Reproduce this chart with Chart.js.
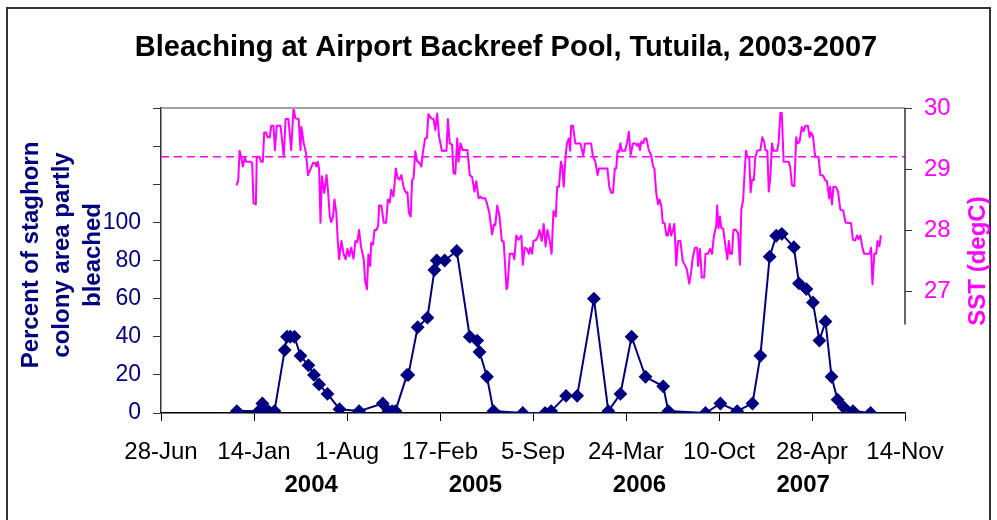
<!DOCTYPE html>
<html>
<head>
<meta charset="utf-8">
<script src="https://cdn.jsdelivr.net/npm/chart.js@4.4.1/dist/chart.umd.min.js"></script>
<style>
  html, body { margin: 0; padding: 0; background: #fff; }
  #wrap { width: 997px; height: 520px; position: relative; }
</style>
</head>
<body>
<div id="wrap"><canvas id="c" width="997" height="520"></canvas></div>
<script>
// ---------------- DATA ----------------
const chartTitle = 'Bleaching at Airport Backreef Pool, Tutuila, 2003-2007';
const leftAxisTitle = ['Percent of staghorn', 'colony area partly', 'bleached'];
const rightAxisTitle = 'SST (degC)';
const axisStartDate = '2003-06-28';

// Date-axis tick labels (every 200 days)
const xTickDates = ['2003-06-28', '2004-01-14', '2004-08-01', '2005-02-17', '2005-09-05',
                    '2006-03-24', '2006-10-10', '2007-04-28', '2007-11-14'];
const monthNames = ['Jan','Feb','Mar','Apr','May','Jun','Jul','Aug','Sep','Oct','Nov','Dec'];

// Year labels under the date axis
const yearLabels = ['2004', '2005', '2006', '2007'];
const yearLabelDates = ['2004-05-16', '2005-05-04', '2006-04-22', '2007-04-09'];

// Bleaching surveys
const bleachDates = [
  '2003-12-08','2004-01-24','2004-02-01','2004-02-07','2004-02-14','2004-02-27','2004-03-20','2004-03-25',
  '2004-04-01','2004-04-10','2004-04-23','2004-05-10','2004-05-22','2004-06-02','2004-06-20','2004-07-16',
  '2004-08-27','2004-10-17','2004-10-29','2004-11-06','2004-11-13','2004-12-08','2004-12-11','2004-12-31',
  '2005-01-21','2005-02-05','2005-02-10','2005-02-27','2005-03-25','2005-04-22','2005-05-08','2005-05-13',
  '2005-05-29','2005-06-12','2005-08-14','2005-10-01','2005-10-14','2005-11-15','2005-12-09','2006-01-14',
  '2006-02-14','2006-03-12','2006-04-05','2006-05-05','2006-06-12','2006-06-23','2006-09-11','2006-10-13',
  '2006-11-18','2006-12-21','2007-01-07','2007-01-27','2007-02-10','2007-02-22','2007-03-20','2007-03-31',
  '2007-04-16','2007-04-30','2007-05-14','2007-05-27','2007-06-09','2007-06-22','2007-07-05','2007-07-25',
  '2007-09-01'
];
const bleachPercent = [
  1, 1, 5, 1, 1, 1, 33, 40,
  40, 40, 30, 25, 20, 15, 10, 2,
  1, 5, 1, 1, 1, 20, 20, 45,
  50, 75, 80, 80, 85, 40, 38, 32,
  19, 1, 0, 0, 1, 9, 9, 60,
  1, 10, 40, 19, 14, 1, 0, 5,
  1, 5, 30, 82, 93, 94, 87, 68,
  65, 58, 38, 48, 19, 7, 3, 1,
  0
];

// SST readings: [days after 28-Jun-2003, degC]
const sstReadings = [
[162,28.73],[166,28.80],[169,29.30],[173,29.18],[176,29.04],[180,29.19],[183,29.12],[192,29.12],[196,29.10],[199,28.44],
[204,28.42],[206,29.20],[212,29.20],[215,29.12],[219,29.12],[222,29.60],[226,29.60],[229,29.52],[234,29.52],[237,29.71],
[242,29.71],[245,29.31],[249,29.71],[257,29.71],[264,29.20],[268,29.82],[274,29.82],[280,29.31],[285,30.00],[289,29.83],
[296,29.82],[300,29.31],[302,29.69],[307,29.42],[312,29.26],[316,28.90],[321,28.99],[327,29.10],[332,29.10],[334,29.04],
[337,29.12],[340,29.01],[343,28.12],[346,28.88],[351,28.61],[356,28.90],[359,28.66],[363,28.22],[366,28.13],[370,28.22],
[373,28.50],[377,28.28],[380,27.84],[383,27.52],[388,27.82],[393,27.60],[397,27.52],[401,27.69],[405,27.57],[409,27.71],
[414,27.53],[418,27.82],[422,27.80],[426,28.00],[430,27.73],[436,27.52],[439,27.16],[443,27.03],[446,27.60],[450,27.41],
[452,27.79],[456,27.76],[459,28.00],[463,28.00],[467,28.07],[469,28.40],[474,28.40],[479,28.12],[484,28.12],[488,28.50],
[492,28.45],[495,28.66],[500,28.55],[505,29.01],[509,28.85],[513,28.83],[517,28.90],[522,28.69],[527,28.61],[530,28.62],
[533,28.28],[537,28.22],[540,28.82],[543,28.84],[547,29.29],[551,29.12],[554,29.12],[560,29.04],[563,29.26],[568,29.50],
[572,29.51],[575,29.90],[581,29.83],[586,29.82],[590,29.64],[594,29.91],[598,29.53],[604,29.30],[614,29.30],[617,29.82],
[621,29.42],[626,29.40],[629,28.93],[633,28.92],[637,29.50],[640,29.12],[644,29.42],[649,29.31],[659,29.31],[664,28.90],
[669,28.87],[674,28.63],[678,28.80],[683,28.52],[687,28.55],[690,28.52],[697,28.52],[701,28.44],[706,28.28],[712,27.93],
[716,28.09],[719,28.08],[723,28.40],[728,28.22],[733,27.82],[737,27.81],[743,27.03],[745,27.06],[750,27.61],[757,27.61],
[760,27.52],[764,27.91],[769,27.84],[775,27.91],[778,27.43],[782,27.71],[787,27.69],[791,27.61],[794,27.71],[798,27.61],
[801,27.82],[807,27.84],[811,27.90],[814,28.00],[819,27.82],[823,28.10],[827,27.73],[831,28.00],[836,27.82],[840,27.61],
[844,28.31],[849,28.22],[852,28.71],[856,28.71],[860,29.12],[863,29.04],[866,28.71],[870,29.20],[873,29.42],[877,29.50],
[880,29.30],[882,29.71],[886,29.71],[891,29.42],[902,29.42],[908,29.22],[912,29.42],[925,29.42],[929,29.20],[934,29.12],
[939,28.90],[942,29.01],[960,29.01],[964,28.71],[968,28.61],[972,28.61],[976,29.01],[979,29.01],[982,29.30],[985,29.28],
[988,29.42],[991,29.30],[998,29.30],[1002,29.42],[1006,29.61],[1010,29.23],[1015,29.42],[1020,29.42],[1024,29.38],[1027,29.42],
[1030,29.31],[1033,29.45],[1037,29.42],[1040,29.50],[1044,29.50],[1049,29.31],[1054,29.23],[1058,29.05],[1061,29.01],[1065,28.61],
[1069,28.42],[1072,28.50],[1076,28.40],[1079,28.12],[1083,28.11],[1087,27.91],[1090,27.91],[1094,28.10],[1097,27.91],[1101,28.00],
[1104,28.10],[1108,27.42],[1112,27.82],[1117,27.82],[1122,27.49],[1127,27.42],[1131,27.35],[1136,27.12],[1140,27.30],[1143,27.52],
[1148,27.71],[1153,27.71],[1155,27.41],[1159,27.69],[1163,27.22],[1168,27.22],[1171,27.61],[1176,27.61],[1181,27.69],[1185,27.61],
[1189,27.90],[1194,28.06],[1196,28.40],[1199,28.03],[1202,28.22],[1205,28.03],[1209,28.02],[1214,27.73],[1218,27.52],[1221,27.82],
[1224,27.61],[1228,27.61],[1231,28.00],[1235,28.01],[1241,27.95],[1245,27.43],[1248,28.33],[1252,28.50],[1255,28.93],[1258,29.30],
[1261,29.20],[1265,29.19],[1268,28.62],[1271,28.82],[1275,28.82],[1278,29.19],[1282,29.30],[1289,29.31],[1293,29.52],[1297,29.45],
[1300,29.31],[1304,29.30],[1307,28.63],[1310,28.82],[1314,29.42],[1317,29.30],[1325,29.30],[1328,29.42],[1332,29.92],[1335,29.92],
[1339,29.12],[1350,29.12],[1353,29.04],[1357,28.73],[1362,28.72],[1366,29.52],[1369,29.42],[1373,29.44],[1378,29.69],[1382,29.62],
[1386,29.71],[1391,29.71],[1395,29.52],[1398,29.60],[1402,29.54],[1407,29.20],[1414,29.20],[1418,28.90],[1424,28.89],[1428,28.82],
[1432,28.80],[1437,28.52],[1439,28.71],[1443,28.42],[1446,28.71],[1452,28.70],[1456,28.63],[1461,28.33],[1467,28.32],[1472,28.12],
[1479,28.12],[1484,28.11],[1488,27.84],[1493,27.83],[1497,27.91],[1500,27.85],[1504,27.91],[1508,27.73],[1512,27.61],[1524,27.61],
[1527,27.71],[1530,27.11],[1534,27.61],[1538,27.61],[1541,27.82],[1545,27.73],[1548,27.91]
];

const bleachingThresholdSST = 29.2;
const sstTickValues = [27, 28, 29, 30];
const sstAxisLineBottom = 26.45;

// ---------------- HELPERS ----------------
const DAY_MS = 86400000;
const startMs = Date.parse(axisStartDate);
const dayOf = s => Math.round((Date.parse(s) - startMs) / DAY_MS);
const fmtDay = v => {
  const d = new Date(startMs + v * DAY_MS);
  return d.getUTCDate() + '-' + monthNames[d.getUTCMonth()];
};
const FONT = "'Liberation Sans', Arial, Helvetica, sans-serif";
const NAVY = '#000080';
const MAGENTA = '#FF00FF';

const xMin = dayOf(xTickDates[0]);
const xMax = dayOf(xTickDates[xTickDates.length - 1]);

const bleachData = bleachDates.map((d, i) => ({ x: dayOf(d), y: bleachPercent[i] }));
const sstData = sstReadings.map(r => ({ x: r[0], y: r[1] }));
const thresholdData = [{ x: xMin, y: bleachingThresholdSST }, { x: xMax, y: bleachingThresholdSST }];

// ---------------- DECORATION PLUGIN ----------------
const decor = {
  id: 'decor',
  beforeDraw(chart) {
    const ctx = chart.ctx;
    ctx.save();
    ctx.fillStyle = '#fff';
    ctx.fillRect(0, 0, chart.width, chart.height);
    ctx.strokeStyle = '#333';
    ctx.lineWidth = 2;
    ctx.strokeRect(7, 8, 983, 600);
    ctx.restore();
  },
  afterDraw(chart) {
    const ctx = chart.ctx;
    const a = chart.chartArea;
    const xs = chart.scales.x, y2 = chart.scales.y2;
    ctx.save();
    // plot-area top line
    ctx.strokeStyle = '#a0a0a0';
    ctx.lineWidth = 2;
    ctx.beginPath(); ctx.moveTo(a.left, a.top); ctx.lineTo(a.right, a.top); ctx.stroke();
    // secondary axis line (partial)
    ctx.strokeStyle = '#333';
    ctx.lineWidth = 1.5;
    ctx.beginPath();
    ctx.moveTo(a.right, y2.getPixelForValue(30));
    ctx.lineTo(a.right, y2.getPixelForValue(sstAxisLineBottom));
    ctx.stroke();

    // title
    ctx.fillStyle = '#000';
    ctx.font = 'bold 29px ' + FONT;
    ctx.textAlign = 'center';
    ctx.textBaseline = 'alphabetic';
    ctx.fillText(chartTitle, 506, 56);

    // year labels
    ctx.font = 'bold 24px ' + FONT;
    yearLabels.forEach((t, i) => {
      ctx.fillText(t, xs.getPixelForValue(dayOf(yearLabelDates[i])), 492);
    });

    // left axis title (rotated, 3 lines)
    ctx.fillStyle = NAVY;
    ctx.font = 'bold 24px ' + FONT;
    const baselines = [38, 69, 100];
    leftAxisTitle.forEach((t, i) => {
      ctx.save();
      ctx.translate(baselines[i], 255);
      ctx.rotate(-Math.PI / 2);
      ctx.fillText(t, 0, 0);
      ctx.restore();
    });

    // right axis title
    ctx.fillStyle = MAGENTA;
    ctx.save();
    ctx.translate(985, 261);
    ctx.rotate(-Math.PI / 2);
    ctx.fillText(rightAxisTitle, 0, 0);
    ctx.restore();
    ctx.restore();
  }
};

// ---------------- CHART ----------------
new Chart(document.getElementById('c'), {
  type: 'line',
  data: {
    datasets: [
      {
        label: 'Bleaching', data: bleachData, yAxisID: 'y', order: 0,
        borderColor: NAVY, backgroundColor: NAVY, borderWidth: 2,
        pointStyle: 'rectRot', pointRadius: 5.5, pointBackgroundColor: NAVY, pointBorderColor: NAVY,
        tension: 0
      },
      {
        label: 'SST', data: sstData, yAxisID: 'y2', order: 1,
        borderColor: MAGENTA, borderWidth: 2, pointRadius: 0, tension: 0
      },
      {
        label: 'Threshold', data: thresholdData, yAxisID: 'y2', order: 2,
        borderColor: MAGENTA, borderWidth: 1.5, borderDash: [8, 5], pointRadius: 0
      }
    ]
  },
  options: {
    responsive: false,
    animation: false,
    devicePixelRatio: 1,
    layout: { padding: { top: 108, left: 0, right: 0, bottom: 0 } },
    plugins: { legend: { display: false }, tooltip: { enabled: false }, title: { display: false } },
    elements: { line: { borderCapStyle: 'butt', borderJoinStyle: 'round' } },
    scales: {
      x: {
        type: 'linear', position: 'bottom', min: xMin, max: xMax,
        afterBuildTicks: s => { s.ticks = xTickDates.map(d => ({ value: dayOf(d) })); },
        afterFit: s => { s.height = 107; },
        ticks: { callback: v => fmtDay(v), font: { size: 24, family: FONT }, color: '#000',
                 padding: 17, maxRotation: 0, autoSkip: false },
        grid: { drawOnChartArea: false, drawTicks: true, tickLength: 8, color: '#000', lineWidth: 1 },
        border: { display: true, color: '#000', width: 1.5 }
      },
      y: {
        position: 'left', min: 0, max: 160,
        afterFit: s => { s.width = 161; },
        ticks: { stepSize: 20, callback: v => (v <= 100 ? String(v) : ''),
                 font: { size: 23, family: FONT }, color: NAVY, padding: 12 },
        grid: { drawOnChartArea: false, drawTicks: true, tickLength: 8, color: '#333', lineWidth: 1 },
        border: { display: true, color: '#333', width: 1.5 }
      },
      y2: {
        position: 'right', min: 25, max: 30,
        afterBuildTicks: s => { s.ticks = sstTickValues.map(v => ({ value: v })); },
        afterFit: s => { s.width = 92; },
        ticks: { font: { size: 24, family: FONT }, color: MAGENTA, padding: 12 },
        grid: { drawOnChartArea: false, drawTicks: true, tickLength: 7, color: '#333', lineWidth: 1 },
        border: { display: false }
      }
    }
  },
  plugins: [decor]
});
</script>
</body>
</html>
